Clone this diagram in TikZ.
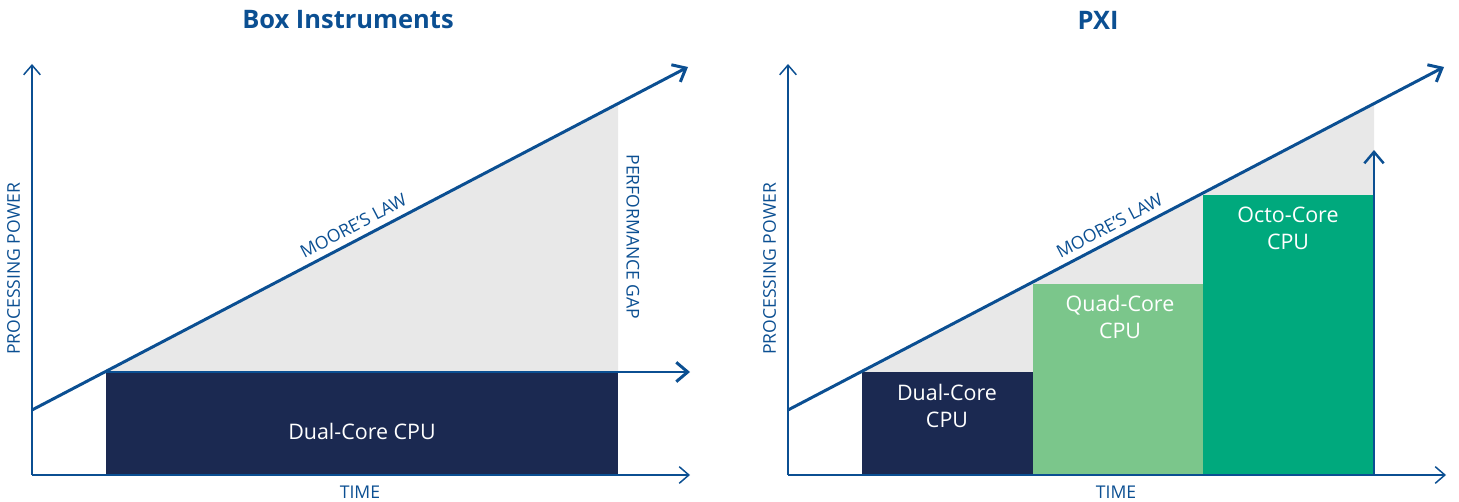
\documentclass[tikz,border=0pt]{standalone}
\usepackage{fontspec}
\setmainfont{Open Sans}
\newcommand*{\titlefont}{\bfseries\fontsize{14.5}{17}\selectfont}
\newcommand*{\boxfont}{\fontsize{12.2}{15.3}\selectfont}
\newcommand*{\axisfont}{\fontsize{10}{12}\selectfont}
\definecolor{B}{HTML}{0B4F92}
\definecolor{N}{HTML}{1B2951}
\definecolor{Q}{HTML}{7BC68B}
\definecolor{O}{HTML}{00A97D}
\definecolor{G}{HTML}{E8E8E8}
\usetikzlibrary{arrows.meta}
\tikzstyle{base}=[x=0.02cm, y=-0.02cm, inner sep=0pt, outer sep=0pt]
\tikzstyle{axis}=[B, line width=0.85pt, -{Straight Barb[length=5.5pt,width=9.5pt]}]
\tikzstyle{law}=[B, line width=1.7pt, -{Straight Barb[length=6.5pt,width=11pt]}]
\tikzstyle{boxtext}=[white, align=center, font=\boxfont]
\tikzstyle{axistext}=[B, font=\axisfont]

\begin{document}
\begin{tikzpicture}[base]
    \useasboundingbox (0,0) rectangle (1459,502);
    % Box Instruments
        \coordinate (o1) at (32,475);
        \coordinate (y1) at (32,64);
        \coordinate (x1) at (690,475);
        \coordinate (m1s) at (32,410);
        \coordinate (m1e) at (688,67);
        \coordinate (c1) at (106,372);
        \coordinate (g1) at (618,103.5);
        \coordinate (g1b) at (618,372);
        \coordinate (h1) at (690,372);
        \fill [G] (c1) -- (g1) -- (g1b) -- cycle;
        \fill [N] (c1) rectangle (618,475);
        \node [boxtext] (dual1) at (362,431) {Dual-Core CPU};
        \draw [law] (m1s) -- (m1e)
            node [pos=0.5, sloped, above=4.5pt, axistext] (law1) {MOORE’S LAW};
        \draw [law] (c1) -- (h1);
        \draw [axis] (o1) -- (y1);
        \draw [axis] (o1) -- (x1);
        \node [axistext, rotate=90] (pp1) at (13.5,269) {PROCESSING POWER};
        \node [axistext, rotate=-90] (gap1) at (633,237) {PERFORMANCE GAP};
        \node [axistext] (time1) at (360,492) {TIME};
        \node [B, font=\titlefont] (title1) at (348,20) {Box Instruments};
    % PXI
        \coordinate (o2) at (788,475);
        \coordinate (y2) at (788,64);
        \coordinate (x2) at (1446,475);
        \coordinate (m2s) at (788,410);
        \coordinate (m2e) at (1444,67);
        \coordinate (c2) at (862,372);
        \coordinate (g2) at (1374,103.5);
        \coordinate (g2b) at (1374,372);
        \coordinate (v2) at (1374,150);
        \coordinate (v2b) at (1374,475);
        \fill [G] (c2) -- (g2) -- (g2b) -- cycle;
        \fill [N] (c2) rectangle (1033,475);
        \fill [Q] (1033,284) rectangle (1203,475);
        \fill [O] (1203,195) rectangle (1374,475);
        \node [boxtext] (dual2) at (947,406) {Dual-Core\\CPU};
        \node [boxtext] (quad2) at (1120,317) {Quad-Core\\CPU};
        \node [boxtext] (octo2) at (1288,228) {Octo-Core\\CPU};
        \draw [law] (m2s) -- (m2e)
            node [pos=0.5, sloped, above=4.5pt, axistext] (law2) {MOORE’S LAW};
        \draw [law, line width=1.4pt] (v2b) -- (v2);
        \draw [axis] (o2) -- (y2);
        \draw [axis] (o2) -- (x2);
        \node [axistext, rotate=90] (pp2) at (769.5,269) {PROCESSING POWER};
        \node [axistext] (time2) at (1116,492) {TIME};
        \node [B, font=\titlefont] (title2) at (1098,20) {PXI};
\end{tikzpicture}
\end{document}
